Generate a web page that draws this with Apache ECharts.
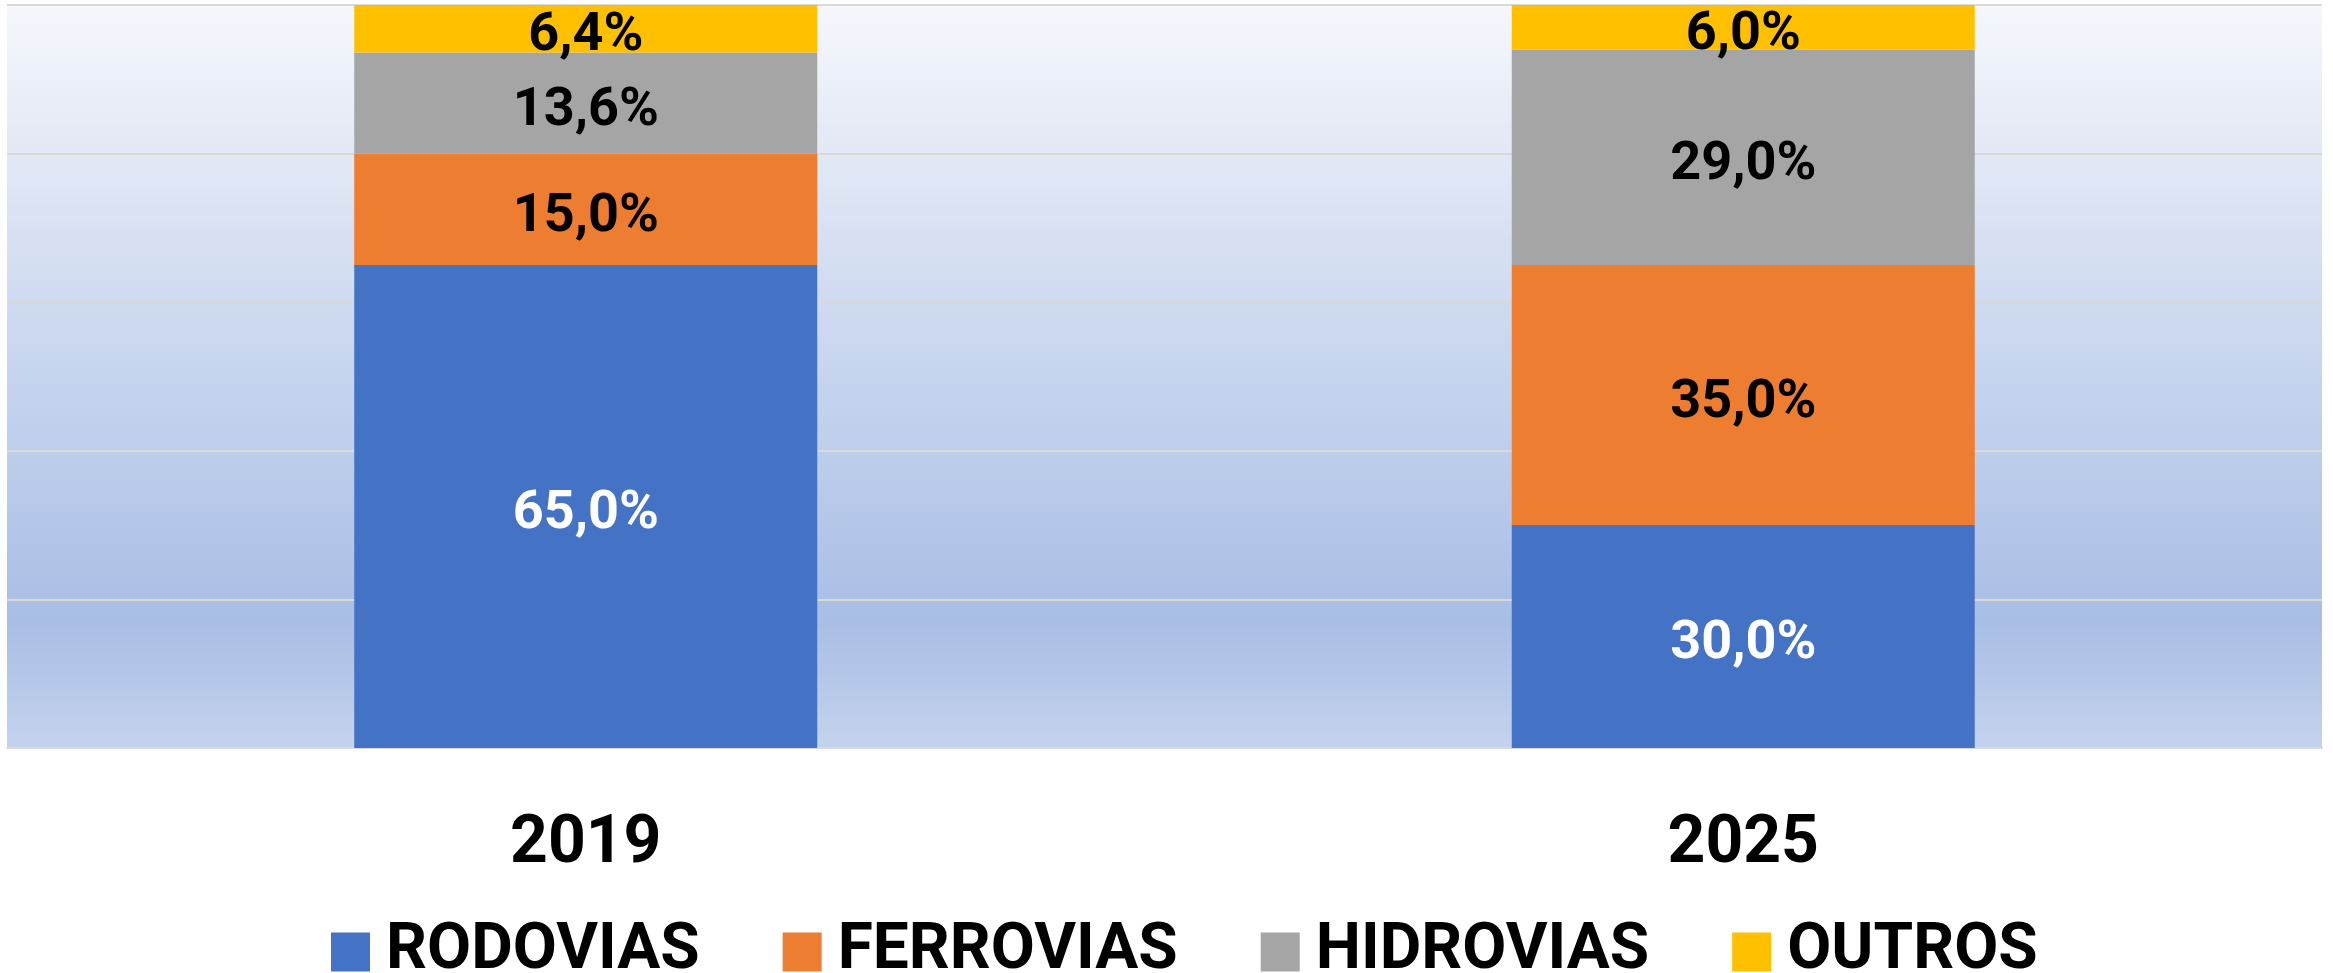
<!DOCTYPE html>
<html>
<head>
<meta charset="utf-8">
<title>Matriz de transporte</title>
<script src="https://cdn.jsdelivr.net/npm/echarts@6.0.0/dist/echarts.min.js"></script>
<style>
  html, body { margin: 0; padding: 0; background: #fff; }
  #main { width: 2333px; height: 973px; }
</style>
</head>
<body>
<div id="main"></div>
<script>
  // dados (%)
  var anos = ['2019', '2025'];
  var rodovias = [65.0, 30.0];
  var ferrovias = [15.0, 35.0];
  var hidrovias = [13.6, 29.0];
  var outros = [6.4, 6.0];

  var fonte = 'Roboto, "Noto Sans", sans-serif';

  // 65 -> "65,0%"
  function pct(p) {
    return p.value.toFixed(1).replace('.', ',') + '%';
  }

  function serie(nome, dados, cor, corTexto) {
    return {
      name: nome,
      type: 'bar',
      stack: 'total',
      barCategoryGap: '60%',
      data: dados,
      itemStyle: { color: cor },
      label: {
        show: true,
        position: 'inside',
        offset: [0, 8],
        formatter: pct,
        color: corTexto,
        fontFamily: fonte,
        fontWeight: 'bold',
        fontSize: 54
      }
    };
  }

  var chart = echarts.init(document.getElementById('main'));

  var option = {
    animation: false,
    backgroundColor: '#ffffff',
    grid: {
      left: 7,
      right: 11,
      top: 5,
      bottom: 225,
      show: true,
      borderWidth: 0,
      // fundo em degradê da área do gráfico
      backgroundColor: new echarts.graphic.LinearGradient(0, 0, 0, 1, [
        { offset: 0, color: '#f5f7fc' },
        { offset: 0.2, color: '#e2e8f5' },
        { offset: 0.5, color: '#c6d4ee' },
        { offset: 0.83, color: '#a9bee5' },
        { offset: 1, color: '#c4d3ed' }
      ])
    },
    legend: {
      top: 915,
      left: 326,
      icon: 'rect',
      itemWidth: 39,
      itemHeight: 39,
      itemGap: 83,
      textStyle: {
        color: '#000',
        fontFamily: fonte,
        fontWeight: 'bold',
        fontSize: 64,
        padding: [0, 0, 0, 11]
      },
      data: ['RODOVIAS', 'FERROVIAS', 'HIDROVIAS', 'OUTROS']
    },
    xAxis: {
      type: 'category',
      data: anos,
      axisLine: { lineStyle: { color: '#d9d9d9', width: 2 } },
      axisTick: { show: false },
      axisLabel: {
        margin: 64,
        color: '#000',
        fontFamily: fonte,
        fontWeight: 'bold',
        fontSize: 66
      }
    },
    yAxis: {
      type: 'value',
      min: 0,
      max: 100,
      interval: 20,
      axisLabel: { show: false },
      axisLine: { show: false },
      axisTick: { show: false },
      splitLine: { lineStyle: { color: '#d9d9d9', width: 2 } }
    },
    series: [
      serie('RODOVIAS', rodovias, '#4472c4', '#ffffff'),
      serie('FERROVIAS', ferrovias, '#ed7d31', '#000000'),
      serie('HIDROVIAS', hidrovias, '#a5a5a5', '#000000'),
      serie('OUTROS', outros, '#ffc000', '#000000')
    ]
  };

  chart.setOption(option);
</script>
</body>
</html>
